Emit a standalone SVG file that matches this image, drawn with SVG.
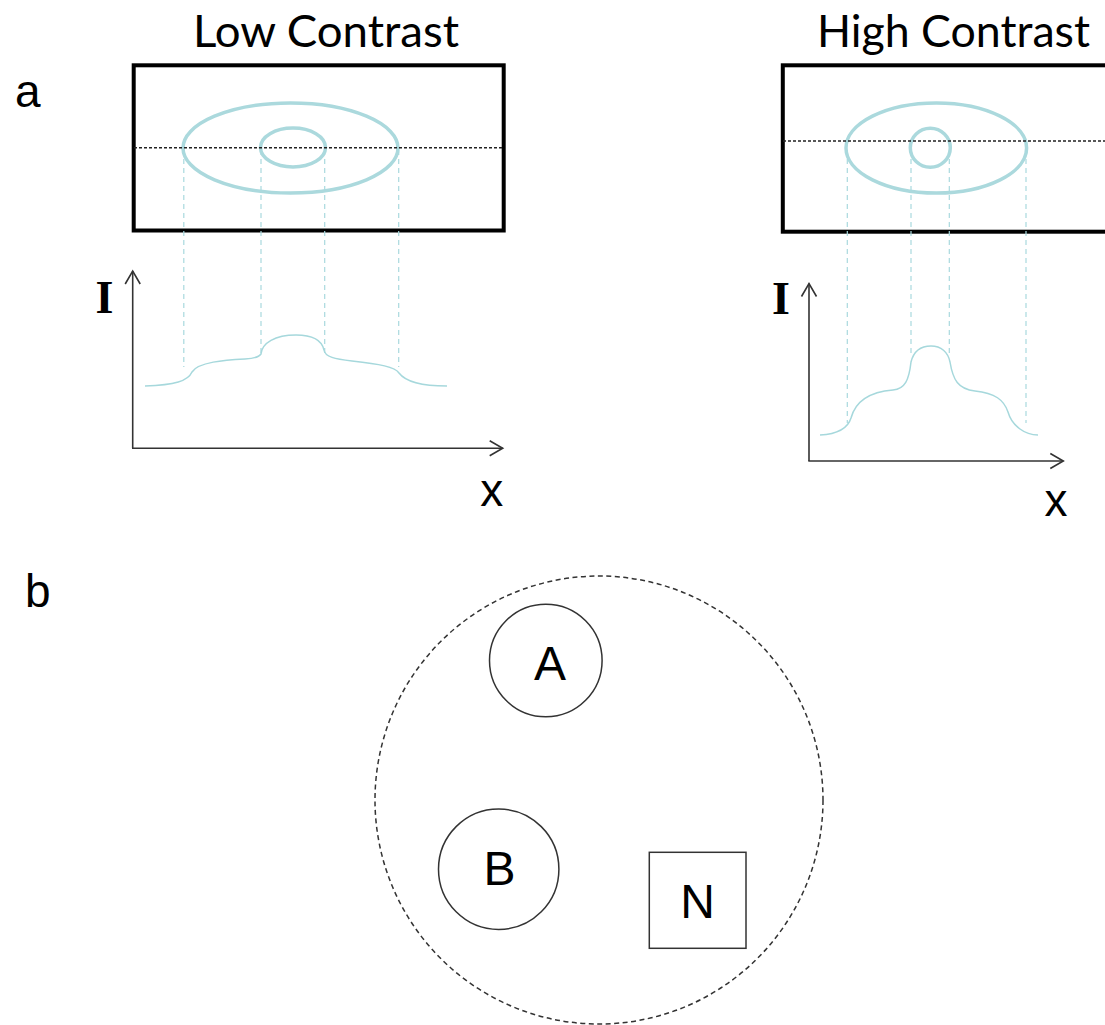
<svg xmlns="http://www.w3.org/2000/svg" width="1105" height="1025" viewBox="0 0 1105 1025">
  <style>
    .frame { fill: none; stroke: #000; stroke-width: 4; }
    .scan { fill: none; stroke: #222; stroke-width: 1.5; stroke-dasharray: 3 2; }
    .ring { fill: none; stroke: #abd9dd; stroke-width: 3.5; }
    .proj { fill: none; stroke: #a9d9de; stroke-width: 1.2; stroke-dasharray: 5 4; }
    .profile { fill: none; stroke: #a6d8dc; stroke-width: 1.5; }
    .axis { fill: none; stroke: #333; stroke-width: 1.6; marker-end: url(#arrow); }
    .title { font-family: Lato, "Open Sans", sans-serif; font-size: 44px; fill: #000; }
    .label { font-family: "Liberation Sans", Arial, sans-serif; font-size: 46px; fill: #000; }
    .ilabel { font-family: "Liberation Serif", "Times New Roman", serif; font-weight: bold; font-size: 46px; fill: #000; text-anchor: middle; }
    .node { fill: #fff; stroke: #333; stroke-width: 1.5; }
    .node-text { font-family: "Liberation Sans", Arial, sans-serif; font-size: 48px; fill: #000; text-anchor: middle; }
    .boundary { fill: none; stroke: #333; stroke-width: 1.5; stroke-dasharray: 5 3.5; }
  </style>
  <defs>
    <marker id="arrow" markerUnits="userSpaceOnUse" markerWidth="18" markerHeight="18" viewBox="0 0 18 18" refX="15" refY="9" orient="auto">
      <path d="M2,1.5 L15,9 L2,16.5" fill="none" stroke="#333" stroke-width="1.6"/>
    </marker>
  </defs>
  <rect width="1105" height="1025" fill="#fff"/>

  <!-- panel labels -->
  <text class="label" x="15" y="107" font-size="44">a</text>
  <text class="label" x="25" y="607">b</text>

  <!-- (a) low contrast -->
  <g id="panel-low">
    <text class="title" x="193" y="47" textLength="266" lengthAdjust="spacingAndGlyphs">Low Contrast</text>
    <rect class="frame" x="133.7" y="65.3" width="370" height="165.2"/>
    <ellipse class="ring" cx="290.5" cy="148" rx="107.5" ry="45"/>
    <ellipse class="ring" cx="293" cy="147.5" rx="32.5" ry="19.5"/>
    <line class="scan" x1="134" y1="147.7" x2="502" y2="147.7"/>
    <g id="proj-low">
      <line class="proj" x1="183.8" y1="150" x2="183.8" y2="367"/>
      <line class="proj" x1="261" y1="150" x2="261" y2="355"/>
      <line class="proj" x1="324.7" y1="150" x2="324.7" y2="355"/>
      <line class="proj" x1="398.7" y1="150" x2="398.7" y2="367"/>
    </g>
    <path class="profile" d="M145,386 C175,385 188,381 192,372 C198,362 225,360 245,359 C255,358.5 259,357 261,354 C262,343 275,335 296,335 C314,335 322,341 324,350 C325,357 335,359 352,361 C380,364 395,367 399,373 C405,381 420,386 447,386"/>
    <line class="axis" x1="132.7" y1="448.3" x2="132.7" y2="271"/>
    <line class="axis" x1="132" y1="448.3" x2="502.7" y2="448.3"/>
    <text class="ilabel" x="104.5" y="313">I</text>
    <text class="label" x="491.7" y="506" text-anchor="middle">x</text>
  </g>

  <!-- (a) high contrast -->
  <g id="panel-high">
    <text class="title" x="817" y="47" textLength="273" lengthAdjust="spacingAndGlyphs">High Contrast</text>
    <rect class="frame" x="782.8" y="65.3" width="340" height="166.4"/>
    <ellipse class="ring" cx="936.3" cy="148" rx="90.3" ry="45"/>
    <ellipse class="ring" cx="930.3" cy="147.8" rx="20" ry="19.5"/>
    <line class="scan" x1="783" y1="141" x2="1105" y2="141"/>
    <g id="proj-high">
      <line class="proj" x1="847.3" y1="150" x2="847.3" y2="423"/>
      <line class="proj" x1="911" y1="150" x2="911" y2="357"/>
      <line class="proj" x1="949.3" y1="150" x2="949.3" y2="357"/>
      <line class="proj" x1="1026" y1="150" x2="1026" y2="423"/>
    </g>
    <path class="profile" d="M820,435 C838,434 848,428 851,418 C855,403 868,392 893,390 C905,389 909,380 911,362 C914,350 922,346 931,346 C941,346 948,352 950,362 C953,380 958,389 975,391 C995,393 1004,400 1008,412 C1012,426 1025,435 1038,435"/>
    <line class="axis" x1="809" y1="461" x2="809" y2="283.5"/>
    <line class="axis" x1="808.3" y1="461" x2="1063.3" y2="461"/>
    <text class="ilabel" x="781" y="314">I</text>
    <text class="label" x="1056" y="516" text-anchor="middle">x</text>
  </g>

  <!-- (b) group boundary and members -->
  <g id="group-boundary">
    <circle class="boundary" cx="599" cy="800" r="224"/>
  </g>
  <g id="node-A">
    <circle class="node" cx="545.8" cy="660.5" r="56.3"/>
    <text class="node-text" x="550" y="680">A</text>
  </g>
  <g id="node-B">
    <circle class="node" cx="498.7" cy="869.2" r="60.2"/>
    <text class="node-text" x="499.5" y="885">B</text>
  </g>
  <g id="node-N">
    <rect class="node" x="649.3" y="852.3" width="96.7" height="96"/>
    <text class="node-text" x="697.5" y="918">N</text>
  </g>
  <g id="connectors"/>
</svg>
